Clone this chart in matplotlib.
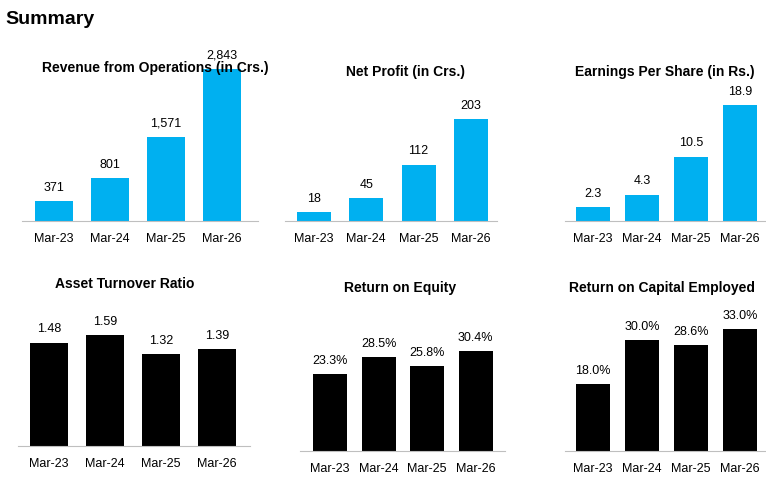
import matplotlib.pyplot as plt

plt.rcParams['font.family'] = ['Liberation Sans', 'DejaVu Sans']

years = ['Mar-23', 'Mar-24', 'Mar-25', 'Mar-26']
revenue = [371, 801, 1571, 2843]
net_profit = [18, 45, 112, 203]
eps = [2.3, 4.3, 10.5, 18.9]
asset_turnover = [1.48, 1.59, 1.32, 1.39]
roe = [23.3, 28.5, 25.8, 30.4]
roce = [18.0, 30.0, 28.6, 33.0]

W, H = 766, 489
BLUE = '#00B0F0'

# title, values, label format, color, (left, right, baseline, top of max bar, first centre, spacing, bar px), title pos
panels = [
    ('Revenue from Operations (in Crs.)', revenue, '{:,.0f}', BLUE, (22, 258, 222, 70, 54, 56, 38), (155, 68)),
    ('Net Profit (in Crs.)', net_profit, '{:.0f}', BLUE, (285, 497, 222, 120, 314, 52.3, 34), (406, 72)),
    ('Earnings Per Share (in Rs.)', eps, '{:.1f}', BLUE, (565, 765, 222, 106, 593, 49, 34), (665, 72)),
    ('Asset Turnover Ratio', asset_turnover, '{:.2f}', 'black', (18, 250, 447, 336, 49, 56, 38), (125, 284)),
    ('Return on Equity', roe, '{:.1f}%', 'black', (300, 505, 452, 352, 330, 48.5, 34), (400, 288)),
    ('Return on Capital Employed', roce, '{:.1f}%', 'black', (565, 765, 452, 330, 593, 49, 34), (662, 288)),
]

fig = plt.figure(figsize=(W / 100, H / 100), dpi=100)
fig.text(5 / W, 1 - 20 / H, 'Summary', fontsize=14, fontweight='bold', va='center')

for title, vals, fmt, color, (L, R, base, top, c0, s, bw), (tx, ty) in panels:
    ytop = top - 30
    ax = fig.add_axes([L / W, 1 - base / H, (R - L) / W, (base - ytop) / H])
    mx = max(vals)
    ax.set_ylim(0, mx * (base - ytop) / (base - top))
    ax.set_xlim((L - c0) / s, (R - c0) / s)
    x = range(len(vals))
    ax.bar(x, vals, width=bw / s, color=color)
    for i, v in zip(x, vals):
        ax.annotate(fmt.format(v), (i, v), xytext=(0, 6), textcoords='offset points',
                    ha='center', va='bottom', fontsize=9)
    ax.set_xticks(list(x))
    ax.set_xticklabels(years, fontsize=9)
    ax.tick_params(axis='x', length=0, pad=8)
    ax.set_yticks([])
    for sp in ['top', 'left', 'right']:
        ax.spines[sp].set_visible(False)
    ax.spines['bottom'].set_color('#BFBFBF')
    fig.text(tx / W, 1 - ty / H, title, fontsize=10, fontweight='bold', ha='center', va='center')

fig.savefig('out.png', dpi=100)
